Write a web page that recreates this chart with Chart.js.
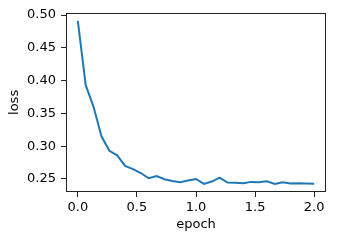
<!DOCTYPE html>
<html>
<head>
  <meta charset="UTF-8">
  <title>loss vs epoch</title>
  <script src="https://cdn.jsdelivr.net/npm/chart.js"></script>
  <style>
    body { margin: 0; padding: 0; background: white; }
    #wrap { width: 353px; height: 246px; }
  </style>
</head>
<body>
  <div id="wrap"><canvas id="chart" width="353" height="246"></canvas></div>
  <script>
    const epochs = [0.0, 0.067, 0.133, 0.2, 0.267, 0.333, 0.4, 0.467, 0.533, 0.6,
                    0.667, 0.733, 0.8, 0.867, 0.933, 1.0, 1.067, 1.133, 1.2, 1.267,
                    1.333, 1.4, 1.467, 1.533, 1.6, 1.667, 1.733, 1.8, 1.867, 1.933, 2.0];
    const loss = [0.491, 0.393, 0.360, 0.315, 0.293, 0.286, 0.270, 0.265, 0.259, 0.251,
                  0.2545, 0.2495, 0.247, 0.245, 0.2475, 0.250, 0.2425, 0.246, 0.252, 0.2445,
                  0.244, 0.2435, 0.2455, 0.245, 0.2465, 0.2425, 0.245, 0.243, 0.2435, 0.243, 0.2425];
    const xTicks = [0.0, 0.5, 1.0, 1.5, 2.0];
    const yTicks = [0.25, 0.30, 0.35, 0.40, 0.45, 0.50];

    // matplotlib style 5% margins
    const xSpan = Math.max(...epochs) - Math.min(...epochs);
    const ySpan = Math.max(...loss) - Math.min(...loss);

    const font = { family: 'DejaVu Sans', size: 13 };

    const frame = {
      id: 'frame',
      afterDraw(chart) {
        const a = chart.chartArea;
        const ctx = chart.ctx;
        ctx.save();
        ctx.strokeStyle = '#222';
        ctx.lineWidth = 1;
        ctx.strokeRect(Math.round(a.left) + 0.5, Math.round(a.top) + 0.5,
                       Math.round(a.right - a.left) - 1, Math.round(a.bottom - a.top) - 1);
        ctx.restore();
      }
    };

    new Chart(document.getElementById('chart'), {
      type: 'line',
      data: {
        datasets: [{
          data: epochs.map((e, i) => ({ x: e, y: loss[i] })),
          borderColor: '#1f77b4',
          borderWidth: 2,
          pointRadius: 0,
          tension: 0,
          fill: false
        }]
      },
      options: {
        responsive: false,
        animation: false,
        events: [],
        layout: { padding: { left: 0, top: 11, right: 27, bottom: 0 } },
        plugins: { legend: { display: false }, tooltip: { enabled: false } },
        scales: {
          x: {
            type: 'linear',
            min: Math.min(...epochs) - 0.05 * xSpan,
            max: Math.max(...epochs) + 0.05 * xSpan,
            afterBuildTicks: s => { s.ticks = xTicks.map(v => ({ value: v })); },
            afterFit: s => { s.height = 54; },
            ticks: { font, color: '#000', padding: 3, maxRotation: 0,
                     callback: v => v.toFixed(1) },
            grid: { drawOnChartArea: false, drawTicks: true, tickLength: 5, color: '#222' },
            border: { display: false },
            title: { display: true, text: 'epoch', font, color: '#000', padding: { top: 0, bottom: 14 } }
          },
          y: {
            min: Math.min(...loss) - 0.05 * ySpan,
            max: Math.max(...loss) + 0.05 * ySpan,
            afterBuildTicks: s => { s.ticks = yTicks.map(v => ({ value: v })); },
            afterFit: s => { s.width = 66; },
            ticks: { font, color: '#000', padding: 5, callback: v => v.toFixed(2) },
            grid: { drawOnChartArea: false, drawTicks: true, tickLength: 5, color: '#222' },
            border: { display: false },
            title: { display: true, text: 'loss', font, color: '#000', padding: { top: 6.5, bottom: 0 } }
          }
        }
      },
      plugins: [frame]
    });
  </script>
</body>
</html>
